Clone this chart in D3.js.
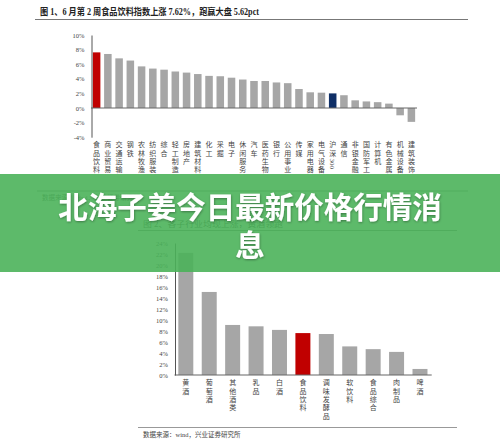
<!DOCTYPE html>
<html>
<head>
<meta charset="utf-8">
<script src="https://cdn.jsdelivr.net/npm/d3@7"></script>
<style>
  html, body { margin: 0; padding: 0; background: #fff; }
  svg { display: block; }
</style>
</head>
<body>
<div id="chart"></div>
<script>
// chart 1: weekly return by industry
const industries = ["食品饮料","商业贸易","交通运输","钢铁","农林牧渔","纺织服装","综合","轻工制造","房地产","建筑材料","化工","采掘","电子","休闲服务","汽车","医药生物","银行","公用事业","传媒","家用电器","电气设备","沪深300","通信","非银金融","国防军工","计算机","有色金属","机械设备","建筑装饰"];
const industryReturns = [7.62,7.4,6.8,6.5,5.7,5.4,5.25,5.0,4.85,4.65,4.4,4.35,4.15,3.9,3.7,3.7,3.5,3.4,2.6,2.15,2.1,2.0,1.75,1.05,0.9,0.8,0.6,-1.0,-1.9];
const ticks1 = [-4,-2,0,2,4,6,8,10];

// chart 2: sub-industries
const subIndustries = ["黄酒","葡萄酒","其他酒类","乳品","白酒","食品饮料","调味发酵品","软饮料","食品综合","肉制品","啤酒"];
const subReturns = [22.2,15.1,9.1,8.85,8.2,7.62,7.45,5.2,4.7,4.2,1.1];
const ticks2 = [0,2,4,6,8,10,12,14,16,18,20,22,24];

const title1 = "图 1、6 月第 2 周食品饮料指数上涨 7.62%，跑赢大盘 5.62pct";
const title2 = "图 2、各子行业均现上涨，黄酒领跑";
const sourceText = "数据来源：wind，兴业证券研究所";
const bannerLines = ["北海子姜今日最新价格行情消", "息"];

const width = 500, height = 448;
const serif = "'Liberation Serif','Times New Roman','Noto Sans CJK SC',serif";
const gray = "#a6a6a6", red = "#c00000", navy = "#0f2f66";

const svg = d3.select("#chart").append("svg")
    .attr("width", width)
    .attr("height", height);

svg.append("rect").attr("width", width).attr("height", height).attr("fill", "#fff");

// helper: stacked vertical label, one character per row ("300" rotated)
function verticalLabel(g, text, x, y0, step, size) {
    const parts = text.match(/\d+|./g);
    let y = y0;
    parts.forEach(p => {
        if (/^\d+$/.test(p)) {
            const len = p.length * size * 0.5;
            g.append("text")
                .attr("transform", `translate(${x},${y - size * 0.45 + len / 2}) rotate(90)`)
                .attr("text-anchor", "middle")
                .attr("dy", "0.35em")
                .attr("font-size", size)
                .attr("fill", "#444")
                .attr("font-family", serif)
                .text(p);
            y += len + 1;
        } else {
            g.append("text")
                .attr("x", x)
                .attr("y", y)
                .attr("text-anchor", "middle")
                .attr("dy", "0.35em")
                .attr("font-size", size)
                .attr("fill", "#444")
                .attr("font-family", serif)
                .text(p);
            y += step;
        }
    });
}

function styleAxis(g) {
    g.select(".domain").attr("stroke", "#555").attr("stroke-width", 1);
    g.selectAll("text")
        .attr("font-family", serif)
        .attr("font-size", 6.5)
        .attr("fill", "#444");
}

// ---------- chart 1 ----------
svg.append("text")
    .attr("x", 40).attr("y", 15)
    .attr("font-family", serif)
    .attr("font-weight", "bold")
    .attr("font-size", 9.5)
    .attr("fill", "#222")
    .attr("textLength", 219)
    .attr("lengthAdjust", "spacingAndGlyphs")
    .text(title1);
svg.append("line")
    .attr("x1", 35).attr("x2", 468).attr("y1", 19.5).attr("y2", 19.5)
    .attr("stroke", "#777").attr("stroke-width", 1.2);

const x1 = d3.scaleBand()
    .domain(industries)
    .range([91, 417])
    .paddingInner(0.33)
    .paddingOuter(0.165);

const y1 = d3.scaleLinear().domain([-4, 10]).range([137.2, 35]);

svg.append("g")
    .selectAll("rect")
    .data(industries)
    .join("rect")
    .attr("x", d => x1(d))
    .attr("width", x1.bandwidth())
    .attr("y", (d, i) => y1(Math.max(0, industryReturns[i])))
    .attr("height", (d, i) => Math.abs(y1(industryReturns[i]) - y1(0)))
    .attr("fill", d => d === "食品饮料" ? red : d === "沪深300" ? navy : gray);

svg.append("line")
    .attr("x1", 91).attr("x2", 417)
    .attr("y1", y1(0)).attr("y2", y1(0))
    .attr("stroke", "#666").attr("stroke-width", 1);

svg.append("g")
    .attr("transform", "translate(91.5,0)")
    .call(d3.axisLeft(y1).tickValues(ticks1).tickSize(0).tickPadding(7).tickFormat(d => d + "%"))
    .call(styleAxis);

const lab1 = svg.append("g");
industries.forEach(d => {
    verticalLabel(lab1, d, x1(d) + x1.bandwidth() / 2, 145, 8.3, 7);
});

svg.append("line")
    .attr("x1", 37).attr("x2", 468).attr("y1", 191).attr("y2", 191)
    .attr("stroke", "#888").attr("stroke-width", 1);
svg.append("text")
    .attr("x", 42).attr("y", 200)
    .attr("font-family", serif).attr("font-size", 6.5).attr("fill", "#444")
    .text(sourceText);

// ---------- chart 2 ----------
svg.append("text")
    .attr("x", 143).attr("y", 227)
    .attr("font-family", serif)
    .attr("font-size", 8)
    .attr("fill", "#333")
    .attr("textLength", 140)
    .attr("lengthAdjust", "spacingAndGlyphs")
    .text(title2);
svg.append("line")
    .attr("x1", 138).attr("x2", 457).attr("y1", 230.5).attr("y2", 230.5)
    .attr("stroke", "#777").attr("stroke-width", 1);

const x2 = d3.scaleBand()
    .domain(subIndustries)
    .range([174.1, 431.7])
    .paddingInner(0.36)
    .paddingOuter(0.18);

const y2 = d3.scaleLinear().domain([0, 24]).range([375, 243]);

svg.append("g")
    .selectAll("rect")
    .data(subIndustries)
    .join("rect")
    .attr("x", d => x2(d))
    .attr("width", x2.bandwidth())
    .attr("y", (d, i) => y2(subReturns[i]))
    .attr("height", (d, i) => y2(0) - y2(subReturns[i]))
    .attr("fill", d => d === "食品饮料" ? red : gray);

svg.append("line")
    .attr("x1", 174.5).attr("x2", 431.7)
    .attr("y1", y2(0)).attr("y2", y2(0))
    .attr("stroke", "#666").attr("stroke-width", 1.2);

svg.append("g")
    .attr("transform", "translate(175,0)")
    .call(d3.axisLeft(y2).tickValues(ticks2).tickSize(0).tickPadding(7).tickFormat(d => d + "%"))
    .call(styleAxis);

const lab2 = svg.append("g");
subIndustries.forEach(d => {
    verticalLabel(lab2, d, x2(d) + x2.bandwidth() / 2, 383, 8.3, 7);
});

svg.append("line")
    .attr("x1", 138).attr("x2", 457).attr("y1", 427.5).attr("y2", 427.5)
    .attr("stroke", "#999").attr("stroke-width", 1.2);
svg.append("text")
    .attr("x", 143).attr("y", 437)
    .attr("font-family", serif).attr("font-size", 6.5).attr("fill", "#444")
    .text(sourceText);

// ---------- green banner ----------
const defs = svg.append("defs");
defs.append("filter").attr("id", "shadow")
    .append("feDropShadow")
    .attr("dx", 0.5).attr("dy", 1).attr("stdDeviation", 1)
    .attr("flood-color", "#000").attr("flood-opacity", 0.35);

svg.append("rect")
    .attr("x", 0).attr("y", 174).attr("width", width).attr("height", 98)
    .attr("fill", "rgb(75,179,90)")
    .attr("fill-opacity", 0.9);

svg.append("g")
    .attr("filter", "url(#shadow)")
    .selectAll("text")
    .data(bannerLines)
    .join("text")
    .attr("x", 250)
    .attr("y", (d, i) => 207 + i * 38)
    .attr("dy", "0.36em")
    .attr("text-anchor", "middle")
    .attr("font-family", "'Noto Sans CJK SC','Noto Sans',sans-serif")
    .attr("font-weight", "bold")
    .attr("font-size", 29.5)
    .attr("fill", "#fff")
    .text(d => d);
</script>
</body>
</html>
